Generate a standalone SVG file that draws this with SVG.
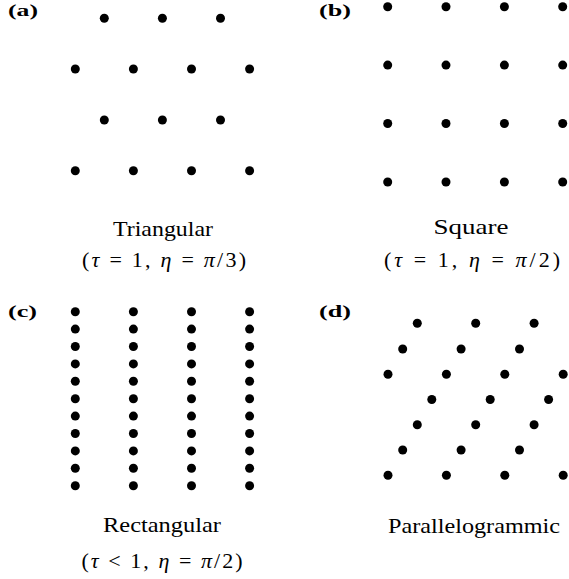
<svg xmlns="http://www.w3.org/2000/svg" width="569" height="579" viewBox="0 0 569 579">
<style>
.d{fill:#000}
.lab{font-family:"Liberation Serif","DejaVu Serif",serif;font-weight:bold;font-size:17px;fill:#000}
.cap{font-family:"Liberation Serif","DejaVu Serif",serif;font-size:22px;fill:#000}
.it{font-style:italic}
</style>
<defs><circle id="p" r="4.5" class="d"/></defs>
<rect width="569" height="579" fill="#fff"/>
<g id="panel-a">
<text class="lab" x="8" y="16" textLength="30" lengthAdjust="spacingAndGlyphs">(a)</text>
<use href="#p" x="104.3" y="18.3"/><use href="#p" x="162.4" y="18.3"/><use href="#p" x="220.5" y="18.3"/>
<use href="#p" x="75.3" y="69"/><use href="#p" x="133.4" y="69"/><use href="#p" x="191.5" y="69"/><use href="#p" x="249.6" y="69"/>
<use href="#p" x="104.3" y="120"/><use href="#p" x="162.4" y="120"/><use href="#p" x="220.5" y="120"/>
<use href="#p" x="75.3" y="170.7"/><use href="#p" x="133.4" y="170.7"/><use href="#p" x="191.5" y="170.7"/><use href="#p" x="249.6" y="170.7"/>
<text class="cap" x="163" y="236" text-anchor="middle" textLength="100" lengthAdjust="spacingAndGlyphs">Triangular</text>
<text class="cap" x="164" y="267" text-anchor="middle" textLength="164" lengthAdjust="spacing">(<tspan class="it">τ</tspan> = 1, <tspan class="it">η</tspan> = <tspan class="it">π</tspan>/3)</text>
</g>
<g id="panel-b">
<text class="lab" x="319" y="16" textLength="32" lengthAdjust="spacingAndGlyphs">(b)</text>
<use href="#p" x="387.7" y="6.7"/><use href="#p" x="446" y="6.7"/><use href="#p" x="504.4" y="6.7"/><use href="#p" x="562.7" y="6.7"/>
<use href="#p" x="387.7" y="65.1"/><use href="#p" x="446" y="65.1"/><use href="#p" x="504.4" y="65.1"/><use href="#p" x="562.7" y="65.1"/>
<use href="#p" x="387.7" y="123.5"/><use href="#p" x="446" y="123.5"/><use href="#p" x="504.4" y="123.5"/><use href="#p" x="562.7" y="123.5"/>
<use href="#p" x="387.7" y="182"/><use href="#p" x="446" y="182"/><use href="#p" x="504.4" y="182"/><use href="#p" x="562.7" y="182"/>
<text class="cap" x="471" y="234" text-anchor="middle" textLength="75" lengthAdjust="spacingAndGlyphs">Square</text>
<text class="cap" x="472" y="267" text-anchor="middle" textLength="176" lengthAdjust="spacing">(<tspan class="it">τ</tspan> = 1, <tspan class="it">η</tspan> =  <tspan class="it">π</tspan>/2)</text>
</g>
<g id="panel-c">
<text class="lab" x="8" y="317" textLength="29" lengthAdjust="spacingAndGlyphs">(c)</text>
<g id="col1">
<use href="#p" x="75.3" y="311.7"/><use href="#p" x="75.3" y="329.1"/><use href="#p" x="75.3" y="346.5"/><use href="#p" x="75.3" y="363.9"/><use href="#p" x="75.3" y="381.3"/><use href="#p" x="75.3" y="398.7"/><use href="#p" x="75.3" y="416.1"/><use href="#p" x="75.3" y="433.5"/><use href="#p" x="75.3" y="450.9"/><use href="#p" x="75.3" y="468.3"/><use href="#p" x="75.3" y="485.7"/>
</g>
<use href="#col1" x="58.1"/><use href="#col1" x="116.2"/><use href="#col1" x="174.3"/>
<text class="cap" x="162" y="532" text-anchor="middle" textLength="118" lengthAdjust="spacingAndGlyphs">Rectangular</text>
<text class="cap" x="162" y="568" text-anchor="middle" textLength="161" lengthAdjust="spacing">(<tspan class="it">τ</tspan> &lt; 1, <tspan class="it">η</tspan> = <tspan class="it">π</tspan>/2)</text>
</g>
<g id="panel-d">
<text class="lab" x="319" y="317" textLength="32" lengthAdjust="spacingAndGlyphs">(d)</text>
<use href="#p" x="417.3" y="323.3"/><use href="#p" x="475.7" y="323.3"/><use href="#p" x="534.1" y="323.3"/>
<use href="#p" x="402.7" y="349"/><use href="#p" x="461.1" y="349"/><use href="#p" x="519.5" y="349"/>
<use href="#p" x="388" y="374.3"/><use href="#p" x="446.4" y="374.3"/><use href="#p" x="504.8" y="374.3"/><use href="#p" x="563.2" y="374.3"/>
<use href="#p" x="431.8" y="399.5"/><use href="#p" x="490.2" y="399.5"/><use href="#p" x="548.6" y="399.5"/>
<use href="#p" x="417.3" y="424.8"/><use href="#p" x="475.7" y="424.8"/><use href="#p" x="534.1" y="424.8"/>
<use href="#p" x="402.7" y="450"/><use href="#p" x="461.1" y="450"/><use href="#p" x="519.5" y="450"/>
<use href="#p" x="388" y="475.3"/><use href="#p" x="446.4" y="475.3"/><use href="#p" x="504.8" y="475.3"/><use href="#p" x="563.2" y="475.3"/>
<text class="cap" x="474" y="533" text-anchor="middle" textLength="172" lengthAdjust="spacingAndGlyphs">Parallelogrammic</text>
</g>
</svg>
